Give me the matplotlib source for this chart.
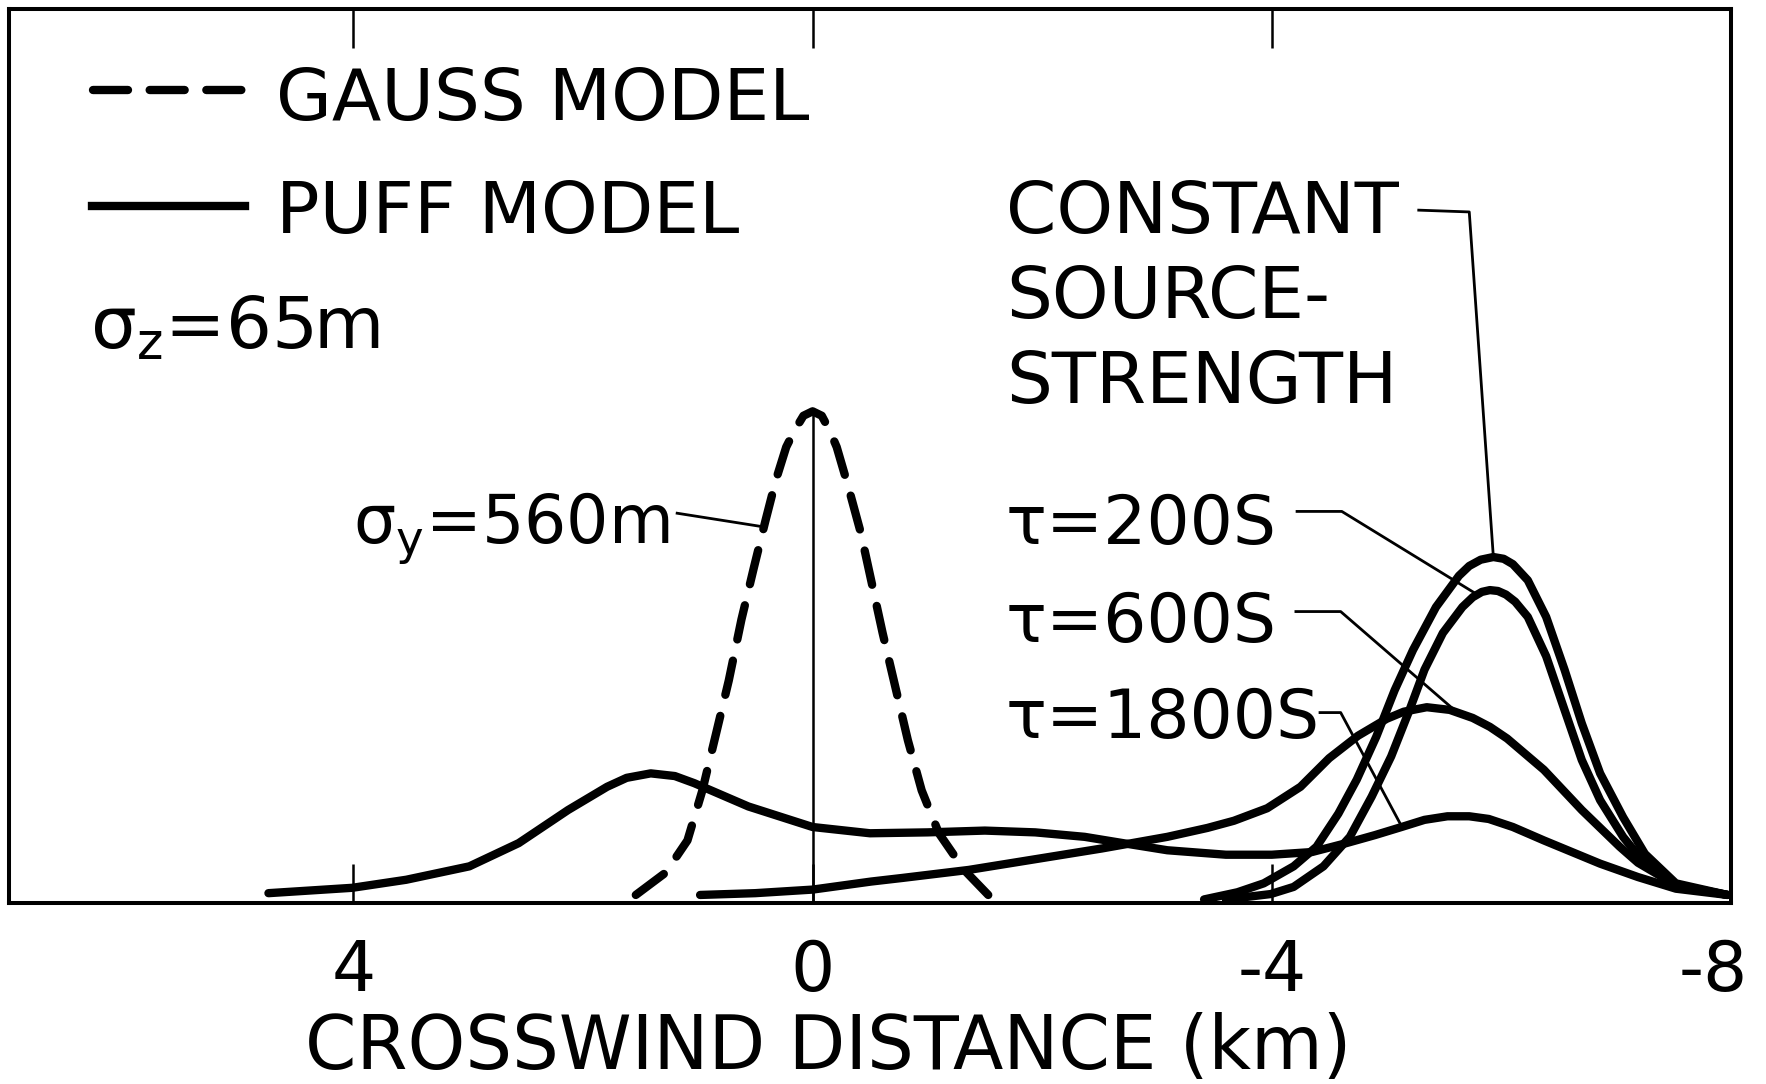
import numpy as np
import matplotlib.pyplot as plt
from matplotlib.transforms import ScaledTranslation

plt.rcParams['font.family'] = ['DejaVu Sans']

# crosswind distance (km) and relative concentration (fraction of plot height)
gauss_x = [1.54, 1.28, 1.09, 0.96, 0.84, 0.73, 0.62, 0.51, 0.41, 0.32, 0.23, 0.16, 0.08, 0.0,
           -0.08, -0.15, -0.21, -0.31, -0.42, -0.51, -0.61, -0.72, -0.83, -0.95, -1.10, -1.32, -1.53]
gauss_y = [0.009, 0.034, 0.070, 0.126, 0.190, 0.249, 0.317, 0.376, 0.428, 0.473, 0.510, 0.528, 0.545, 0.550,
           0.545, 0.528, 0.510, 0.466, 0.414, 0.361, 0.302, 0.242, 0.182, 0.126, 0.078, 0.037, 0.009]

const_x = [-3.41, -3.70, -3.93, -4.19, -4.39, -4.58, -4.74, -4.91, -5.07, -5.23, -5.43, -5.63, -5.72,
           -5.82, -5.93, -6.02, -6.10, -6.23, -6.39, -6.55, -6.70, -6.86, -7.06, -7.25, -7.52, -7.97]
const_y = [0.004, 0.012, 0.022, 0.041, 0.063, 0.100, 0.138, 0.186, 0.238, 0.283, 0.331, 0.366, 0.377,
           0.384, 0.387, 0.385, 0.379, 0.361, 0.320, 0.261, 0.201, 0.145, 0.096, 0.055, 0.022, 0.009]

t200_x = [-3.60, -3.99, -4.19, -4.45, -4.68, -4.87, -5.04, -5.20, -5.33, -5.49, -5.66, -5.75, -5.83,
          -5.90, -5.97, -6.04, -6.12, -6.23, -6.39, -6.55, -6.70, -6.86, -7.06, -7.25, -7.52, -7.97]
t200_y = [0.004, 0.010, 0.018, 0.041, 0.074, 0.119, 0.164, 0.216, 0.261, 0.302, 0.331, 0.342, 0.348,
          0.350, 0.349, 0.345, 0.337, 0.320, 0.276, 0.216, 0.160, 0.115, 0.074, 0.044, 0.020, 0.009]

t600_x = [0.98, 0.50, 0.0, -0.51, -0.78, -1.36, -1.94, -2.52, -3.09, -3.44, -3.67, -3.96, -4.25, -4.50,
          -4.75, -5.00, -5.15, -5.35, -5.55, -5.75, -5.90, -6.05, -6.37, -6.70, -7.03, -7.19, -7.52, -7.97]
t600_y = [0.009, 0.011, 0.015, 0.024, 0.028, 0.037, 0.049, 0.061, 0.074, 0.084, 0.092, 0.106, 0.130, 0.162,
          0.187, 0.206, 0.214, 0.219, 0.216, 0.207, 0.197, 0.184, 0.149, 0.104, 0.063, 0.045, 0.020, 0.009]

t1800_x = [4.74, 4.01, 3.54, 2.99, 2.56, 2.13, 1.79, 1.62, 1.41, 1.20, 1.03, 0.56, 0.0, -0.50, -1.00,
           -1.50, -1.94, -2.37, -2.75, -3.09, -3.60, -4.00, -4.35, -4.65, -4.90, -5.13, -5.33, -5.53,
           -5.72, -5.89, -6.10, -6.37, -6.86, -7.19, -7.52, -7.97]
t1800_y = [0.011, 0.017, 0.026, 0.041, 0.067, 0.104, 0.130, 0.140, 0.145, 0.142, 0.134, 0.108, 0.085,
           0.078, 0.079, 0.081, 0.079, 0.074, 0.066, 0.059, 0.054, 0.054, 0.057, 0.067, 0.076, 0.085,
           0.093, 0.097, 0.097, 0.094, 0.085, 0.070, 0.044, 0.029, 0.016, 0.009]

xticks = [4, 0, -4, -8]
xtick_labels = ['4', '0', '-4', '-8']

fig, ax = plt.subplots(figsize=(17.66, 10.84), dpi=100)
fig.subplots_adjust(left=9/1766, right=1731/1766, top=1-9/1084, bottom=1-903/1084)

LW = 6
DASH = (4.2, 2.6)
ax.plot(gauss_x, gauss_y, color='k', lw=LW, dashes=DASH, dash_capstyle='round')
for xs, ys in [(const_x, const_y), (t200_x, t200_y), (t600_x, t600_y), (t1800_x, t1800_y)]:
    ax.plot(xs, ys, color='k', lw=LW, solid_capstyle='round', solid_joinstyle='round')
ax.vlines(0, 0, max(gauss_y), color='k', lw=1.8)

# legend
ax.plot([0.049, 0.138], [0.909, 0.909], transform=ax.transAxes, color='k', lw=LW,
        dashes=DASH, dash_capstyle='round')
ax.plot([0.048, 0.137], [0.780, 0.780], transform=ax.transAxes, color='k', lw=LW)

FS = 52
ax.text(4.674, 0.876, 'GAUSS MODEL', fontsize=FS)
ax.text(4.674, 0.749, 'PUFF MODEL', fontsize=FS)
ax.text(6.294, 0.620, r'σ$_\mathregular{z}$=65m', fontsize=FS)
ax.text(4.0, 0.402, r'σ$_\mathregular{y}$=560m', fontsize=48)
ax.text(-1.685, 0.749, 'CONSTANT', fontsize=FS)
ax.text(-1.685, 0.654, 'SOURCE-', fontsize=FS)
ax.text(-1.685, 0.559, 'STRENGTH', fontsize=FS)
ax.text(-1.685, 0.402, 'τ=200S', fontsize=49)
ax.text(-1.685, 0.292, 'τ=600S', fontsize=49)
ax.text(-1.685, 0.185, 'τ=1800S', fontsize=49)

# leader lines
LL = 2
ax.plot([1.18, 0.44], [0.436, 0.421], color='k', lw=LL)
ax.plot([-5.28, -5.72, -5.93], [0.775, 0.773, 0.387], color='k', lw=LL)
ax.plot([-4.22, -4.61, -5.79], [0.438, 0.438, 0.345], color='k', lw=LL)
ax.plot([-4.21, -4.60, -5.58], [0.326, 0.326, 0.217], color='k', lw=LL)
ax.plot([-4.42, -4.60, -5.13], [0.213, 0.213, 0.086], color='k', lw=LL)

ax.set_xlim(7, -8)
ax.set_ylim(0, 1)
ax.set_yticks([])
ax.set_xticks(xticks)
ax.set_xticklabels(xtick_labels)
ax.tick_params(axis='x', direction='in', length=28, width=1.8, top=True, bottom=True,
               labelsize=50, pad=25)
lbl = ax.get_xticklabels()[-1]
lbl.set_transform(lbl.get_transform() + ScaledTranslation(-0.18, 0, fig.dpi_scale_trans))

for s in ax.spines.values():
    s.set_linewidth(2.9)

ax.set_xlabel('CROSSWIND DISTANCE (km)', fontsize=53)
ax.xaxis.set_label_coords(0.4756, -0.122)

fig.savefig('out.png', dpi=100)
